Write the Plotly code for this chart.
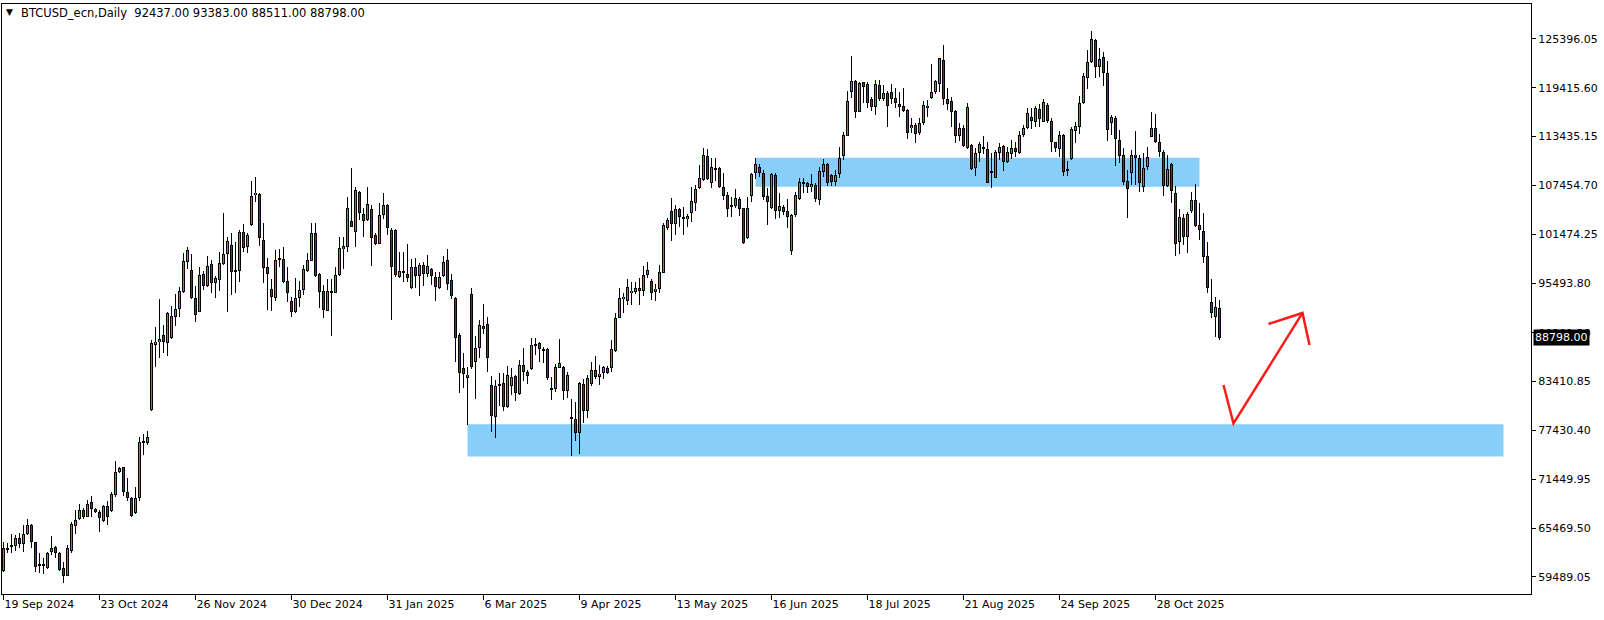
import plotly.graph_objects as go

# ---------------- data (daily bars, weekdays only, from 19 Sep 2024) ----------------
symbol_title = "BTCUSD_ecn,Daily"
last_ohlc = [92437.00, 93383.00, 88511.00, 88798.00]

opens = [60258, 62871, 63198, 63320, 64218, 63484, 64708, 65852, 63729, 60900,
         60830, 60626, 62585, 63116, 62381, 60544, 59646, 62708, 65770, 66545,
         67688, 66872, 68709, 67811, 67402, 66382, 68178, 67607, 69526, 72303,
         72915, 69853, 69118, 67280, 69118, 75977, 75936, 79938, 87900, 88226,
         89125, 88185, 88716, 91288, 92309, 94351, 98026, 97086, 93616, 91983,
         96597, 95168, 97822, 95454, 95862, 97781, 99006, 100150, 97087, 97005,
         101783, 99864, 102599, 106233, 106396, 100762, 97496, 94719, 93698, 98598,
         98435, 95740, 93290, 91984, 93698, 94637, 97005, 98230, 101579, 96557,
         94515, 92106, 94311, 94311, 96475, 99619, 99864, 103089, 101783, 106682,
         103947, 103212, 104518, 101374, 100272, 103783, 105049, 101987, 101987, 96271,
         96801, 96597, 94922, 97413, 96392, 97699, 96556, 97209, 96188, 94922,
         96392, 98311, 95861, 93616, 89125, 85041, 83898, 94147, 85776, 87491,
         90227, 90472, 83000, 79039, 82918, 83204, 80346, 82918, 84102, 81897,
         85450, 84551, 84960, 87777, 88104, 87410, 87410, 82592, 82551, 85123,
         85245, 82306, 78917, 78794, 77080, 83122, 79856, 83082, 84837, 84021,
         84429, 85123, 85041, 87167, 91249, 93495, 93331, 94230, 94434, 94842,
         94555, 96516, 95781, 94434, 94760, 96762, 102192, 104315, 102681, 104560,
         103621, 103294, 104111, 105336, 107173, 108112, 111052, 107704, 109582, 109541,
         107255, 106275, 105050, 104968, 105785, 104642, 100967, 106193, 108929, 109664,
         108929, 106152, 104723, 108725, 104356, 104764, 104315, 99456, 103825, 105785,
         107826, 107704, 107214, 107500, 105662, 109134, 110032, 108725, 107909, 108807,
         111094, 113543, 118933, 120240, 116483, 120076, 119831, 118035, 117014, 119750,
         117994, 118810, 118851, 118116, 117381, 117177, 116687, 114442, 114850, 113829,
         115054, 117177, 118116, 118851, 119832, 122812, 118035, 117790, 116565, 113543,
         114442, 111992, 112400, 109542, 111379, 112115, 111869, 109052, 108399, 111379,
         112278, 110359, 111257, 111992, 111379, 113625, 114441, 115870, 115258, 116769,
         115258, 117299, 115340, 112726, 111950, 113625, 109420, 110685, 114115, 114645,
         117585, 120566, 122607, 125261, 121995, 123138, 121178, 115135, 115666, 113012,
         111175, 107990, 108929, 111175, 110848, 107296, 109665, 113421, 114441, 112767,
         111502, 107418, 110031, 106479, 100478, 103417, 101172, 104356, 105663, 102600,
         101866, 98803, 93127, 91372, 92437]

highs = [63810, 63606, 64749, 64626, 64831, 65852, 66586, 65933, 63810, 62381,
         61769, 62585, 64504, 63279, 62585, 61279, 63402, 66260, 67688, 68423,
         67893, 68914, 69445, 67893, 67688, 68301, 68832, 69935, 73691, 72997,
         73000, 71568, 69322, 70547, 76671, 76957, 77365, 88512, 90064, 93534,
         90350, 91983, 92677, 94106, 95045, 99128, 99944, 99046, 95127, 97413,
         97005, 98802, 98312, 96352, 99333, 104110, 101170, 101579, 100558, 101987,
         102722, 101661, 108030, 108520, 106560, 102885, 98516, 95944, 99537, 99619,
         99864, 97414, 93821, 96066, 95740, 97700, 99129, 102803, 102803, 96679,
         95250, 95944, 95944, 97496, 101089, 101089, 106070, 109540, 107295, 106805,
         104641, 107295, 105049, 101579, 105253, 106560, 105172, 102191, 102069, 99333,
         99333, 100271, 98434, 98515, 97903, 98107, 98924, 97290, 96801, 96801,
         98801, 99659, 96596, 93738, 89411, 86976, 85164, 94841, 89002, 90962,
         92922, 91288, 84102, 83612, 84429, 84429, 85327, 85041, 84225, 86062,
         87491, 84837, 88716, 88716, 88308, 87614, 87491, 84021, 85572, 88594,
         85327, 84633, 81244, 80877, 83408, 83694, 84225, 85858, 86552, 85450,
         85368, 85327, 88512, 91780, 94842, 94230, 95985, 95659, 95659, 96067,
         97578, 98109, 95985, 95332, 97701, 102804, 103417, 105866, 105050, 104642,
         104846, 103907, 107296, 107500, 109949, 111991, 111909, 110766, 110766, 109745,
         108929, 106683, 106071, 106969, 106071, 104723, 106071, 109010, 110766, 110031,
         109337, 107091, 109010, 109010, 106479, 105050, 105785, 103907, 106683, 108316,
         108316, 107908, 108806, 107704, 109745, 110685, 110154, 108807, 109338, 112115,
         113952, 119015, 123302, 120362, 120158, 120158, 120158, 118320, 120362, 120362,
         119750, 119015, 119872, 119341, 118933, 119341, 116768, 115748, 115054, 115748,
         117790, 117912, 122322, 120362, 123098, 124649, 119341, 118320, 116687, 115054,
         114850, 117504, 112482, 112074, 112727, 113503, 112809, 111379, 111788, 112604,
         112400, 112196, 113013, 112809, 114115, 114850, 116891, 116891, 117177, 117422,
         118034, 117503, 115666, 112808, 114115, 113706, 110440, 114645, 115258, 118402,
         121260, 124036, 126364, 125384, 124240, 123832, 122730, 116075, 115952, 114237,
         111991, 109338, 111787, 114115, 111175, 111379, 112114, 116401, 116197, 113706,
         111787, 111175, 110154, 107378, 104520, 103948, 104234, 106684, 107622, 105336,
         104029, 100559, 95945, 93741, 93383]

lows = [60135, 62381, 62381, 62708, 62993, 62585, 64626, 62993, 60135, 59931,
        59850, 60422, 62177, 61769, 60217, 58788, 59605, 62381, 64749, 66464,
        66545, 66790, 66790, 67361, 65035, 66260, 65852, 67484, 69322, 72180,
        69404, 68832, 66790, 67198, 68832, 74426, 75651, 79856, 85164, 86267,
        86879, 86593, 88635, 90268, 91370, 94228, 97209, 93534, 90758, 91901,
        94637, 95046, 94311, 93617, 94556, 97700, 91984, 94025, 94229, 95658,
        99333, 99210, 102477, 105457, 100027, 95454, 92188, 92106, 93331, 97496,
        95454, 93208, 91289, 91861, 92596, 94025, 96883, 98150, 96271, 92473,
        91167, 92065, 89044, 94229, 96352, 97210, 99333, 102313, 99946, 103212,
        101170, 103130, 97577, 100150, 100231, 103293, 101374, 90963, 96271, 96066,
        95658, 95658, 94759, 94841, 93943, 95126, 96270, 95249, 93330, 94759,
        96270, 94637, 93534, 85858, 82061, 82592, 78100, 84960, 81285, 86266,
        89206, 84551, 77284, 76549, 80468, 79856, 80142, 81775, 81081, 81775,
        83531, 83082, 84837, 86675, 85858, 85735, 83612, 81163, 82184, 85041,
        81163, 81367, 74303, 76182, 74508, 78386, 78917, 82918, 83694, 82999,
        83694, 84347, 84633, 87085, 91168, 91780, 92801, 92801, 94148, 92801,
        93944, 96149, 93413, 93331, 94311, 96680, 101987, 100681, 101375, 102396,
        101375, 102314, 103008, 104315, 106969, 107990, 108112, 107173, 107990, 107091,
        105662, 103621, 103621, 104642, 103743, 100273, 100885, 105376, 108235, 108439,
        105662, 102600, 104560, 103335, 103498, 103825, 102273, 98925, 103539, 105662,
        106560, 106479, 106683, 105458, 105050, 108521, 107419, 107378, 107378, 108317,
        110563, 113503, 118198, 115748, 116401, 117504, 116891, 116605, 116075, 117830,
        117830, 114646, 117422, 116891, 115789, 116401, 113094, 113911, 112604, 113625,
        114850, 115870, 118035, 118606, 118851, 117300, 116687, 114646, 112604, 112890,
        112196, 111910, 109338, 108644, 110359, 111257, 107705, 107174, 108317, 110563,
        109215, 110154, 110685, 110971, 111298, 113421, 114360, 114360, 114645, 114645,
        115176, 115054, 111583, 111502, 110971, 108602, 108643, 110562, 112686, 113747,
        117381, 119259, 122403, 120648, 120770, 119667, 112931, 113625, 109869, 110154,
        107500, 103498, 107500, 107500, 106684, 106684, 109338, 113339, 112686, 110889,
        106193, 107296, 105255, 98844, 99008, 100151, 99130, 104029, 102315, 100763,
        97905, 94230, 91168, 88923, 88511]

closes = [62993, 62993, 63402, 64218, 63484, 64708, 65852, 63729, 60748, 60952,
          60870, 62463, 62993, 62381, 60340, 59646, 62993, 65933, 66464, 67688,
          66872, 68382, 67770, 67484, 66668, 68178, 66790, 69608, 72303, 72834,
          69853, 69200, 66994, 69118, 75977, 76141, 76590, 88104, 88308, 88635,
          88226, 91860, 91452, 92309, 94514, 98189, 99536, 93698, 91574, 96474,
          95127, 97577, 95454, 96107, 97904, 99047, 100640, 96883, 96883, 101783,
          99823, 101374, 106152, 106560, 100966, 97291, 96557, 93821, 98312, 98394,
          95658, 94311, 91902, 93617, 94637, 97210, 98312, 101579, 96352, 94433,
          92188, 94556, 94400, 96475, 99741, 100068, 104641, 102395, 106886, 104028,
          103130, 105172, 101048, 100272, 103824, 105049, 102191, 97414, 96475, 96965,
          96850, 96066, 97413, 96392, 97699, 96556, 97576, 96392, 94963, 96270,
          98107, 95331, 93943, 88716, 84429, 84306, 84225, 85164, 87491, 90349,
          89819, 86266, 79243, 82878, 83122, 80346, 84225, 84021, 81979, 85409,
          84551, 84143, 87899, 87981, 87369, 87206, 83817, 82388, 85245, 85654,
          82306, 84225, 78950, 77080, 83204, 79856, 83817, 84837, 84021, 84347,
          85164, 84511, 87410, 91168, 93617, 93822, 94964, 94515, 94842, 94555,
          96435, 97047, 94230, 94760, 96802, 102600, 103172, 102681, 104519, 103539,
          103417, 103743, 105499, 106969, 108316, 111174, 108235, 109664, 109378, 107296,
          106193, 104519, 104887, 105866, 104560, 100436, 104642, 108806, 110031, 108929,
          105989, 105458, 108806, 104356, 104928, 104233, 103621, 103825, 106275, 107826,
          107704, 107214, 107581, 105785, 109214, 110073, 107705, 107909, 108725, 110767,
          113625, 117790, 120240, 116401, 119954, 119545, 117504, 117014, 119831, 117994,
          118729, 117177, 117994, 117504, 117095, 116565, 113911, 114850, 113748, 115054,
          117300, 116891, 118851, 120240, 123016, 118035, 117381, 116483, 113543, 114442,
          112319, 117095, 109460, 111379, 112523, 111869, 107786, 109100, 111502, 112196,
          110359, 111583, 111992, 111502, 113625, 114442, 116279, 115380, 116891, 115585,
          117626, 115380, 112808, 111991, 113625, 109133, 109256, 114360, 114727, 117585,
          120852, 122526, 125343, 121995, 122893, 121178, 114237, 115789, 113094, 111093,
          107908, 106969, 111175, 110848, 107704, 109542, 110889, 114441, 112808, 111502,
          107418, 109461, 106806, 100233, 103621, 101090, 103948, 105663, 102519, 101988,
          98722, 94924, 91781, 92515, 88798]

# time axis labels (every 24th bar)
tick_bars = [0, 24, 48, 72, 96, 120, 144, 168, 192, 216, 240, 264, 288]
tick_labels = ["19 Sep 2024", "23 Oct 2024", "26 Nov 2024", "30 Dec 2024", "31 Jan 2025",
               "6 Mar 2025", "9 Apr 2025", "13 May 2025", "16 Jun 2025", "18 Jul 2025",
               "21 Aug 2025", "24 Sep 2025", "28 Oct 2025"]

# price axis labels
price_ticks = [59489.05, 65469.50, 71449.95, 77430.40, 83410.85, 89391.30,
               95493.80, 101474.25, 107454.70, 113435.15, 119415.60, 125396.05]

# drawn zones (bar index from/to, price low/high)
zone_upper = [188, 299, 107296, 110848]
zone_lower = [116, 375, 74250, 78200]

# hand-drawn red arrow (bar index, price)
arrow_bars = [305, 307.5, 324.75]
arrow_prices = [83005, 78290, 91824]
arrow_head_bars = [316.25, 324.75, 326.5]
arrow_head_prices = [90476, 91824, 87905]

# ---------------- figure ----------------
FONT = "DejaVu Sans"
bull = "#00d200"
bear = "#e00000"

Y_RANGE = [57396, 129671]
PLOT_H = 590
px = (Y_RANGE[1] - Y_RANGE[0]) / PLOT_H   # price units per screen pixel

x = list(range(len(closes)))
body_lo = [min(o, c) for o, c in zip(opens, closes)]
body_len = [max(abs(c - o), px) for o, c in zip(opens, closes)]
fill_x = [i for i, o, c in zip(x, opens, closes) if abs(c - o) > 2.2 * px]
fill_base = [min(opens[i], closes[i]) + px for i in fill_x]
fill_len = [abs(closes[i] - opens[i]) - 2 * px for i in fill_x]
fill_col = [bull if closes[i] >= opens[i] else bear for i in fill_x]

fig = go.Figure()
# wicks
fig.add_trace(go.Bar(
    x=x, base=lows, y=[h - l for h, l in zip(highs, lows)], width=0.25,
    marker=dict(color="black", line=dict(width=0)), hoverinfo="skip", showlegend=False))
# body outline
fig.add_trace(go.Bar(
    x=x, base=body_lo, y=body_len, width=0.75,
    marker=dict(color="black", line=dict(width=0)), hoverinfo="skip", showlegend=False))
# body fill
fig.add_trace(go.Bar(
    x=fill_x, base=fill_base, y=fill_len, width=0.25,
    marker=dict(color=fill_col, line=dict(width=0)), hoverinfo="skip", showlegend=False))

shapes = []
for z in (zone_upper, zone_lower):
    shapes.append(dict(type="rect", xref="x", yref="y", x0=z[0], x1=z[1], y0=z[2], y1=z[3],
                       fillcolor="#87CEFA", line=dict(width=0), layer="below"))


def path(xs, ys):
    return "M" + " L".join(f"{a},{b}" for a, b in zip(xs, ys))


shapes.append(dict(type="path", xref="x", yref="y", path=path(arrow_bars, arrow_prices),
                   line=dict(color="#ff1a1a", width=2.5)))
shapes.append(dict(type="path", xref="x", yref="y", path=path(arrow_head_bars, arrow_head_prices),
                   line=dict(color="#ff1a1a", width=2.5)))

annotations = [
    dict(xref="paper", yref="paper", x=0, y=1, xanchor="left", yanchor="middle",
         xshift=2, yshift=-8, text="▼", showarrow=False,
         font=dict(family=FONT, size=9, color="black")),
    dict(xref="paper", yref="paper", x=0, y=1, xanchor="left", yanchor="middle",
         xshift=17, yshift=-8.5,
         text=symbol_title + "  " + " ".join(f"{v:.2f}" for v in last_ohlc),
         showarrow=False, font=dict(family=FONT, size=11.5, color="black")),
    dict(xref="paper", yref="y", x=1, y=last_ohlc[3], xanchor="left", yanchor="middle",
         xshift=2, text=f"{last_ohlc[3]:.2f}", showarrow=False, bgcolor="black",
         borderpad=1, font=dict(family=FONT, size=11, color="white")),
]

fig.update_layout(
    width=1604, height=620,
    margin=dict(l=2, r=73, t=4, b=26),
    plot_bgcolor="white", paper_bgcolor="white",
    barmode="overlay", bargap=0,
    showlegend=False,
    shapes=shapes, annotations=annotations,
    font=dict(family=FONT, size=11, color="black"),
    xaxis=dict(range=[-0.375, 381.875], tickvals=tick_bars, ticktext=tick_labels,
               ticks="outside", ticklen=5, tickcolor="black", tickwidth=1,
               ticklabelposition="outside right",
               showline=True, linecolor="black", linewidth=1, mirror=True,
               showgrid=False, zeroline=False, fixedrange=True,
               tickfont=dict(family=FONT, size=11, color="black")),
    yaxis=dict(range=Y_RANGE, side="right", tickvals=price_ticks,
               ticktext=[f"{v:.2f}" for v in price_ticks],
               ticks="outside", ticklen=4, tickcolor="black", tickwidth=1,
               showline=True, linecolor="black", linewidth=1, mirror=True,
               showgrid=False, zeroline=False, fixedrange=True,
               tickfont=dict(family=FONT, size=11, color="black")),
)

fig.write_html("out.html", config={"displayModeBar": False},
               post_script="document.body.style.margin='0';")
